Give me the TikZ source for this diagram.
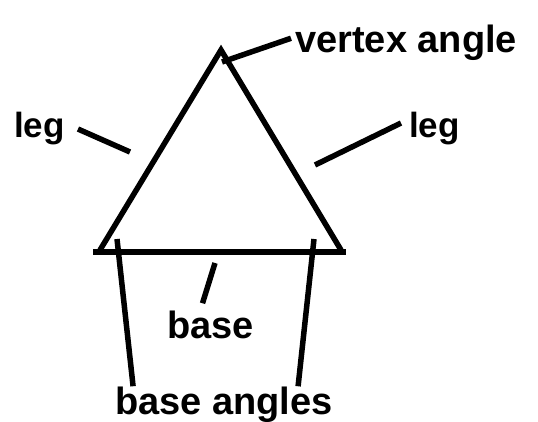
\documentclass[tikz,border=0pt]{standalone}
\usepackage{fontspec}
\setmainfont{Liberation Sans}
\usetikzlibrary{calc}
\begin{document}
\begin{tikzpicture}[
    x=1pt, y=-1pt,
    font=\bfseries\fontsize{38}{42}\selectfont,
    lbl/.style={inner sep=0pt, anchor=base west},
    small/.style={font=\bfseries\fontsize{35}{40}\selectfont},
    pointer/.style={line width=5.5pt},
    side/.style={line width=5.5pt, line join=miter}
]
\useasboundingbox (0,0) rectangle (538,422);

% triangle corners
\coordinate (apex) at (221,50);
\coordinate (bl) at (100,250);
\coordinate (br) at (341,250);
\coordinate (basel) at (93,252);
\coordinate (baser) at (346,252);

\draw[side] (bl) -- (apex) -- (br);
\draw[line width=6pt] (basel) -- (baser);

% labels
\node[lbl] (vertex) at (295,53) {vertex angle};
\node[lbl, small] (legl) at (14,138) {leg};
\node[lbl, small] (legr) at (409,138) {leg};
\node[lbl] (base) at (167,338) {base};
\node[lbl] (angles) at (115,414) {base angles};

% pointer tips
\coordinate (vtip) at (222,62);
\coordinate (ltip) at (130,152);
\coordinate (rtip) at (315,165);
\coordinate (btip) at (215,263);
\coordinate (atipl) at (117,239);
\coordinate (atipr) at (314,239);

% pointers
\draw[pointer] ([shift={(-4,-5)}]vertex.west) -- (vtip);
\draw[pointer] ([xshift=13pt]legl.east) -- (ltip);
\draw[pointer] ([shift={(-8,-6)}]legr.west) -- (rtip);
\draw[pointer] ([shift={(-8,-7)}]base.north) -- (btip);
\draw[pointer] ($(angles.north west)!0.083!(angles.north east)$) -- (atipl);
\draw[pointer] ($(angles.north west)!0.84!(angles.north east)$) -- (atipr);

\end{tikzpicture}
\end{document}
